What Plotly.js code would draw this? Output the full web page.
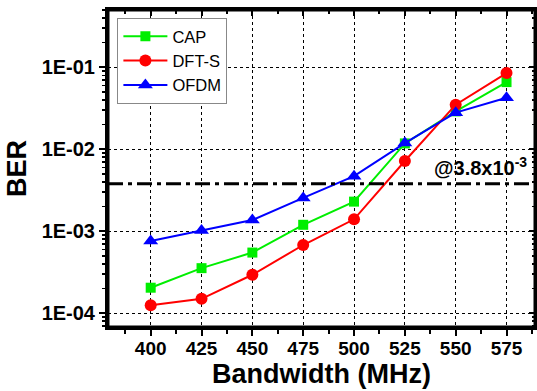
<!DOCTYPE html>
<html><head><meta charset="utf-8">
<script src="https://cdn.plot.ly/plotly-3.0.1.min.js"></script>
<style>html,body{margin:0;padding:0;background:#fff}#c{width:537px;height:391px}</style>
</head><body><div id="c"></div>
<script>
const bandwidth = [400, 425, 450, 475, 500, 525, 550, 575];
const capBER  = [2.05e-4, 3.55e-4, 5.5e-4, 1.2e-3, 2.3e-3, 1.18e-2, 2.9e-2, 6.6e-2];
const dftsBER = [1.25e-4, 1.5e-4, 2.95e-4, 6.8e-4, 1.4e-3, 7.2e-3, 3.5e-2, 8.5e-2];
const ofdmBER = [7.6e-4, 1.02e-3, 1.37e-3, 2.55e-3, 4.7e-3, 1.19e-2, 2.8e-2, 4.25e-2];
const threshold = 3.8e-3;
const yTickVals = [1e-4, 1e-3, 1e-2, 1e-1];
const yTickText = ['1E-04', '1E-03', '1E-02', '1E-01'];
const xTickVals = bandwidth;

const xr = [379, 589];
const yr = [Math.log10(6.8e-5), Math.log10(0.5)];
const fam = 'Liberation Sans, Arial, sans-serif';
const bold = s => '<b>' + s + '</b>';

const yMinor = [];
[1e-5, 1e-4, 1e-3, 1e-2, 1e-1].forEach(d => { for (let k = 2; k <= 9; k++) yMinor.push(d * k); });

const traces = [
  {x: bandwidth, y: capBER, name: 'CAP', mode: 'lines+markers',
   line: {color: '#00ee00', width: 2}, marker: {symbol: 'square', size: 10, color: '#00ee00'}},
  {x: bandwidth, y: dftsBER, name: 'DFT-S', mode: 'lines+markers',
   line: {color: '#ff0000', width: 2}, marker: {symbol: 'circle', size: 12, color: '#ff0000'}},
  {x: bandwidth, y: ofdmBER, name: 'OFDM', mode: 'lines+markers',
   line: {color: '#0000ff', width: 2}, marker: {symbol: 'triangle-up', size: 13, color: '#0000ff'}},
  {x: xr, y: [threshold, threshold], mode: 'lines', showlegend: false, hoverinfo: 'skip',
   line: {color: '#000', width: 3, dash: '15px,5px,4px,5px'}},
  {x: [bandwidth[0]], y: [yTickVals[0]], xaxis: 'x2', yaxis: 'y2', mode: 'markers',
   marker: {opacity: 0}, showlegend: false, hoverinfo: 'skip'}
];

const common = {showline: true, linewidth: 3, linecolor: '#000', zeroline: false, tickcolor: '#000'};

const layout = {
  width: 537, height: 391,
  margin: {l: 108, r: 2, t: 10, b: 64},
  paper_bgcolor: '#fff', plot_bgcolor: '#fff',
  font: {family: fam, color: '#000'},
  showlegend: true,
  legend: {x: 0.022, y: 0.975, xanchor: 'left', yanchor: 'top',
    bgcolor: '#fff', bordercolor: '#888', borderwidth: 1, itemwidth: 44,
    font: {family: fam, size: 16.5, color: '#000'}, tracegroupgap: 0},
  xaxis: Object.assign({}, common, {range: xr, tickvals: xTickVals, ticktext: xTickVals.map(v => bold(v)),
    ticks: 'outside', ticklen: 6, tickwidth: 2, ticklabelstandoff: -4,
    showgrid: true, gridcolor: '#000', griddash: 'dot', gridwidth: 1,
    tickfont: {family: fam, size: 19, color: '#000'},
    minor: {dtick: 12.5, tick0: 387.5, ticks: 'outside', ticklen: 4, tickwidth: 2, tickcolor: '#000', showgrid: false},
    title: {text: bold('Bandwidth (MHz)'), standoff: 0, font: {family: fam, size: 27, color: '#000'}}}),
  yaxis: Object.assign({}, common, {type: 'log', range: yr, tickvals: yTickVals, ticktext: yTickText.map(bold),
    ticks: 'outside', ticklen: 6, tickwidth: 2,
    showgrid: true, gridcolor: '#000', griddash: 'dot', gridwidth: 1,
    tickfont: {family: fam, size: 20, color: '#000'},
    minor: {tickvals: yMinor, ticks: 'outside', ticklen: 3, tickwidth: 1.5, tickcolor: '#000', showgrid: false},
    title: {text: bold('BER'), standoff: 8, font: {family: fam, size: 27, color: '#000'}}}),
  xaxis2: Object.assign({}, common, {overlaying: 'x', side: 'top', range: xr, tickvals: xTickVals, showticklabels: false,
    ticks: 'inside', ticklen: 6, tickwidth: 2, showgrid: false,
    minor: {dtick: 12.5, tick0: 387.5, ticks: 'inside', ticklen: 4, tickwidth: 2, tickcolor: '#000', showgrid: false}}),
  yaxis2: Object.assign({}, common, {overlaying: 'y', side: 'right', type: 'log', range: yr, tickvals: yTickVals,
    showticklabels: false, ticks: 'inside', ticklen: 6, tickwidth: 2, showgrid: false,
    minor: {tickvals: yMinor, ticks: 'inside', ticklen: 3, tickwidth: 1.5, tickcolor: '#000', showgrid: false}}),
  shapes: [{type: 'rect', xref: 'paper', yref: 'paper', x0: 0, x1: 1, y0: 0, y1: 1,
    line: {color: '#000', width: 3}, fillcolor: 'rgba(0,0,0,0)', layer: 'above'}],
  annotations: [{x: 1, xref: 'paper', xanchor: 'right', y: Math.log10(threshold), yref: 'y', yanchor: 'bottom',
    yshift: 3, xshift: -6, showarrow: false,
    text: bold('@3.8x10<sup>-3</sup>'), font: {family: fam, size: 20, color: '#000'}}]
};

Plotly.newPlot('c', traces, layout, {displayModeBar: false, staticPlot: true});
</script></body></html>
